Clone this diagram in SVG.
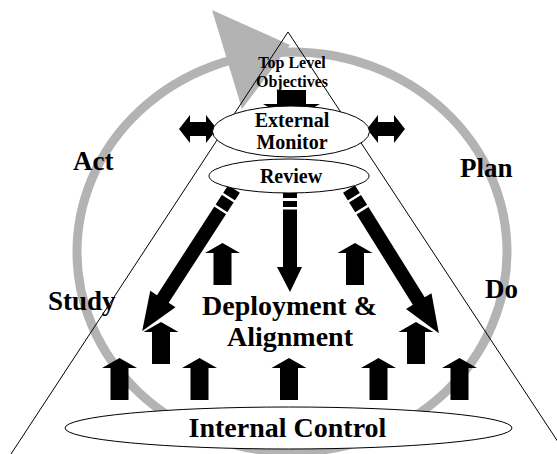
<svg xmlns="http://www.w3.org/2000/svg" xmlns:xlink="http://www.w3.org/1999/xlink" width="557" height="454" viewBox="0 0 557 454">
  <style>
    text { font-family: 'Liberation Serif', 'DejaVu Serif', serif; font-weight: bold; fill: #000; }
    .node { fill: #fff; stroke: #000; stroke-width: 1; }
    .blk { fill: #000; stroke: none; }
    .gap { fill: #fff; stroke: none; }
  </style>
  <defs>
    <path id="up" d="M0,0 L17.5,10 L9,10 L9,42 L-9,42 L-9,10 L-17.5,10 Z"/>
    <path id="dbl" d="M0,0 L11,-14 L11,-7 L27,-7 L27,-14 L38,0 L27,14 L27,7 L11,7 L11,14 Z"/>
  </defs>
  <rect width="557" height="454" fill="#fff"/>

  <g id="cycle">
    <ellipse cx="292" cy="252" rx="215" ry="200" fill="none" stroke="#b3b3b3" stroke-width="9"/>
    <polygon points="212,10 290,45 242,109" fill="#b3b3b3"/>
  </g>

  <g id="triangle">
    <polyline points="11,454 288,32 566,454" fill="none" stroke="#000" stroke-width="1"/>
  </g>

  <g id="pdca-labels" font-family="Liberation Serif, serif" font-weight="bold">
    <text id="act" x="73" y="170" font-size="27">Act</text>
    <text id="plan" x="460" y="177" font-size="27">Plan</text>
    <text id="study" x="48" y="310" font-size="27">Study</text>
    <text id="do" x="485" y="298" font-size="27">Do</text>
  </g>

  <g id="connectors">
    <path class="blk" d="M277,90 L306,90 L306,104 L320,104 L291,120 L263,104 L277,104 Z"/>
    <use xlink:href="#dbl" x="179" y="129"/>
    <use xlink:href="#dbl" x="367" y="129"/>
    <path class="blk" d="M283,188 L297,188 L297,267 L302,267 L290,292 L277,267 L283,267 Z"/>
    <rect class="gap" x="281" y="198" width="18" height="3"/>
    <rect class="gap" x="281" y="207" width="18" height="2.5"/>
    <g transform="translate(234,189) rotate(122.9)">
      <path class="blk" d="M0,-7 L131,-7 L131,-15 L169,0 L131,15 L131,7 L0,7 Z"/>
      <rect class="gap" x="9" y="-9" width="2.5" height="18"/>
      <rect class="gap" x="23" y="-9" width="2.5" height="18"/>
    </g>
    <g transform="translate(349,189) rotate(58.1)">
      <path class="blk" d="M0,-7 L132,-7 L132,-15 L170,0 L132,15 L132,7 L0,7 Z"/>
      <rect class="gap" x="9" y="-9" width="2.5" height="18"/>
      <rect class="gap" x="23" y="-9" width="2.5" height="18"/>
    </g>
    <use xlink:href="#up" x="222.5" y="243"/>
    <use xlink:href="#up" x="355" y="243"/>
    <use xlink:href="#up" x="161" y="322"/>
    <use xlink:href="#up" x="416" y="322"/>
    <use xlink:href="#up" x="119.5" y="358"/>
    <use xlink:href="#up" x="199.5" y="358"/>
    <use xlink:href="#up" x="289" y="358"/>
    <use xlink:href="#up" x="378.5" y="358"/>
    <use xlink:href="#up" x="459.5" y="358"/>
  </g>

  <g id="top-level-objectives" font-family="Liberation Serif, serif" font-weight="bold" text-anchor="middle">
    <text x="292" y="68" font-size="16">Top Level</text>
    <text x="292" y="87" font-size="16">Objectives</text>
  </g>

  <g id="external-monitor" font-family="Liberation Serif, serif" font-weight="bold" text-anchor="middle">
    <ellipse class="node" cx="291" cy="131.5" rx="78.5" ry="25.5"/>
    <text x="292" y="127" font-size="20">External</text>
    <text x="292" y="149" font-size="20">Monitor</text>
  </g>

  <g id="review" font-family="Liberation Serif, serif" font-weight="bold" text-anchor="middle">
    <ellipse class="node" cx="289" cy="176" rx="80" ry="17"/>
    <text x="291" y="183" font-size="20">Review</text>
  </g>

  <g id="deployment-alignment" font-family="Liberation Serif, serif" font-weight="bold" text-anchor="middle">
    <text x="289.5" y="315" font-size="28">Deployment &amp;</text>
    <text x="290" y="346" font-size="28">Alignment</text>
  </g>

  <g id="internal-control" font-family="Liberation Serif, serif" font-weight="bold" text-anchor="middle">
    <ellipse class="node" cx="288.5" cy="428" rx="223.5" ry="21"/>
    <text x="287.5" y="437" font-size="28">Internal Control</text>
  </g>
</svg>
